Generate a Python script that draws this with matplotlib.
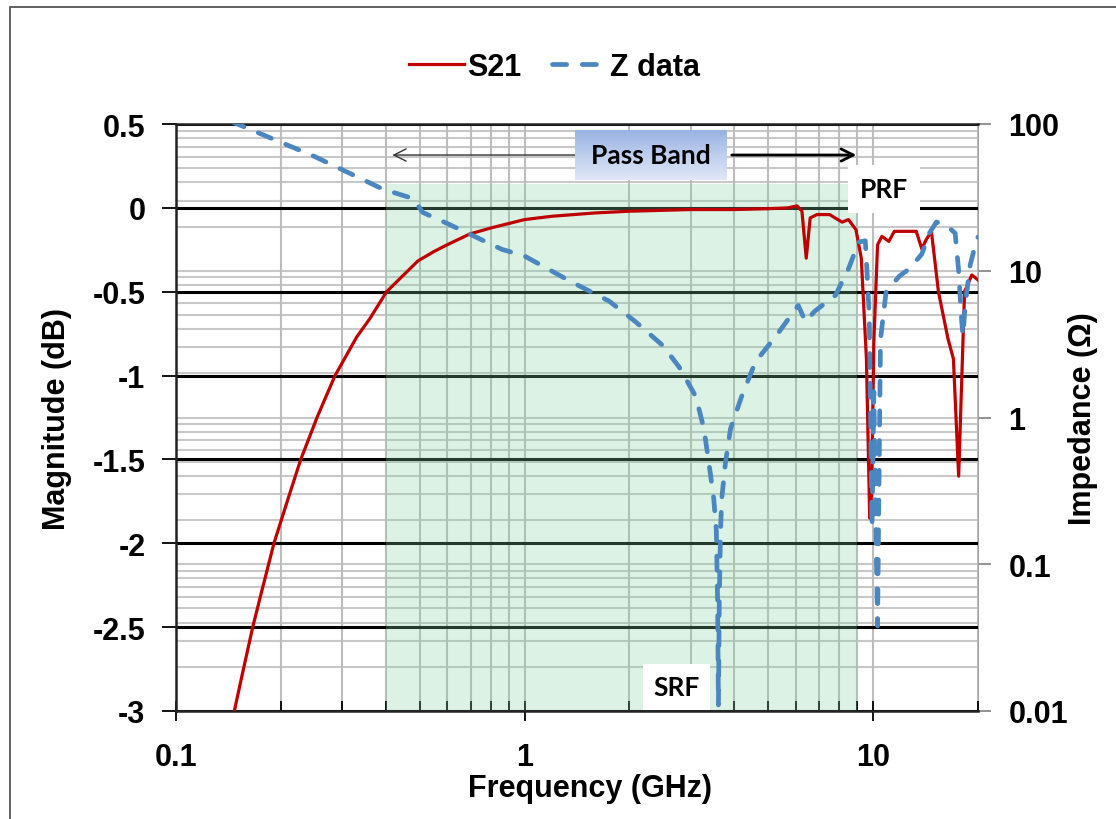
import numpy as np
import matplotlib
matplotlib.use('Agg')
import matplotlib.pyplot as plt
from matplotlib.ticker import FixedLocator, FixedFormatter, LogLocator, NullFormatter, NullLocator
from matplotlib.patches import Rectangle

# S21 (dB) vs frequency (GHz)
freq_s21 = [0.14, 0.147, 0.155, 0.166, 0.175, 0.191, 0.21, 0.228, 0.255, 0.286, 0.33, 0.36,
            0.402, 0.45, 0.494, 0.55, 0.6, 0.696, 0.8, 1.0, 1.2, 1.6, 2.0, 3.0, 4.0, 5.0,
            5.7, 6.05, 6.25, 6.43, 6.6, 6.9, 7.5, 8.15, 8.5, 8.93, 9.25, 9.57, 9.78, 9.9,
            10.05, 10.3, 10.6, 11.1, 11.5, 12.5, 13.3, 13.8, 14.2, 14.7, 15.4, 16.4, 17.0,
            17.6, 18.3, 19.2, 20.0]
s21_db = [-3.3, -3.0, -2.78, -2.5, -2.31, -2.0, -1.73, -1.5, -1.24, -1.0, -0.77, -0.66,
          -0.5, -0.40, -0.317, -0.26, -0.22, -0.156, -0.12, -0.07, -0.05, -0.03, -0.02,
          -0.01, -0.01, -0.005, 0.0, 0.012, -0.02, -0.30, -0.06, -0.04, -0.04, -0.085,
          -0.07, -0.13, -0.3, -0.9, -1.85, -1.7, -0.8, -0.22, -0.17, -0.2, -0.14, -0.14,
          -0.14, -0.245, -0.19, -0.14, -0.5, -0.78, -0.9, -1.6, -0.5, -0.4, -0.43]

# impedance (ohm) vs frequency (GHz)
freq_z = [0.1, 0.15, 0.25, 0.392, 0.48, 0.51, 0.6, 0.86, 1.0, 1.35, 1.75, 2.08, 2.49, 2.78,
          3.1, 3.27, 3.38, 3.49, 3.55, 3.58, 3.6, 3.62, 3.65, 3.68, 3.77, 3.9, 4.2, 4.6,
          5.27, 6.1, 6.4, 6.8, 7.8, 8.5, 9.1, 9.5, 9.75, 9.93, 10.05, 10.15, 10.3, 10.5,
          10.9, 11.9, 12.7, 13.8, 14.5, 15.2, 16.4, 17.2, 17.6, 17.9, 18.1, 18.4, 19.0,
          19.5, 20.0]
z_ohm = [150, 100, 60, 36, 31, 25, 21, 14, 12.6, 8.5, 6.2, 4.5, 3.1, 2.2,
         1.39, 0.84, 0.49, 0.28, 0.17, 0.056, 0.011, 0.056, 0.17, 0.28, 0.49, 0.84, 1.4, 2.4,
         3.6, 5.8, 4.5, 5.3, 6.8, 10.3, 15.7, 16.0, 5.0, 0.18, 1.5, 0.3, 0.038, 3.4,
         7.2, 9.2, 10.3, 13.0, 18.0, 21.5, 20.0, 18.0, 10.0, 5.0, 3.6, 6.0, 11.0,
         14.0, 17.0]

band_lo, band_hi, band_top = 0.4, 9.0, 0.14

x_ticks = [0.1, 1, 10]
x_tick_labels = ['0.1', '1', '10']
db_ticks = [-3, -2.5, -2, -1.5, -1, -0.5, 0, 0.5]
db_tick_labels = ['-3', '-2.5', '-2', '-1.5', '-1', '-0.5', '0', '0.5']
z_ticks = [0.01, 0.1, 1, 10, 100]
z_tick_labels = ['0.01', '0.1', '1', '10', '100']

FONT = 'Liberation Sans'
CAL = 'Lato'
FS = 22

fig = plt.figure(figsize=(11.16, 8.2), dpi=100, facecolor='white')
ax = fig.add_axes([176 / 1116, 1 - 712 / 820, 802 / 1116, 587 / 820])
ax2 = ax.twinx()
ax.set_zorder(ax2.get_zorder() + 1)
ax.patch.set_visible(False)

# scales
ax.set_xscale('log')
ax2.set_yscale('log')

# grids
ax2.yaxis.set_minor_locator(LogLocator(base=10, subs=np.arange(2, 10)))
ax2.yaxis.set_minor_formatter(NullFormatter())
ax2.yaxis.grid(True, which='both', color='#c8c8c8', lw=1.5, zorder=0)
ax.xaxis.grid(True, which='both', color='#bdbdbd', lw=1.5, zorder=0)
ax.yaxis.grid(True, which='major', color='black', lw=2.2, zorder=0.5)
ax.set_axisbelow(True)

# pass band region
ax.fill_between([band_lo, band_hi], -3, band_top, color='#7fd3a0', alpha=0.28,
                lw=0, zorder=1)

ax.plot(freq_s21, s21_db, color='#c00000', lw=2.3, label='S21', zorder=3,
        solid_joinstyle='round')
ax.plot(freq_z, z_ohm, color='#4a86c0', lw=3.4, ls=(0, (3.0, 3.3)),
        dash_capstyle='round', label='Z data', zorder=4, transform=ax2.transData)

# limits / ticks
ax.set_xlim(0.1, 20)
ax.set_ylim(-3, 0.5)
ax2.set_ylim(0.01, 100)

ax.xaxis.set_major_locator(FixedLocator(x_ticks))
ax.xaxis.set_major_formatter(FixedFormatter(x_tick_labels))
ax.xaxis.set_minor_locator(LogLocator(base=10, subs=np.arange(2, 10)))
ax.xaxis.set_minor_formatter(NullFormatter())
ax.yaxis.set_major_locator(FixedLocator(db_ticks))
ax.yaxis.set_major_formatter(FixedFormatter(db_tick_labels))
ax.yaxis.set_minor_locator(NullLocator())
ax2.yaxis.set_major_locator(FixedLocator(z_ticks))
ax2.yaxis.set_major_formatter(FixedFormatter(z_tick_labels))

ax.tick_params(axis='x', which='major', direction='inout', length=14, width=1.3,
               pad=15, labelsize=FS)
ax.tick_params(axis='x', which='minor', direction='in', length=7, width=1.3)
ax.tick_params(axis='y', which='major', direction='out', length=10, width=1.3,
               pad=12, labelsize=FS)
ax2.tick_params(axis='y', which='major', direction='out', length=9, width=1.3,
                color='#888888', pad=13, labelsize=FS)
ax2.tick_params(axis='y', which='minor', length=0)

for t in ax.get_xticklabels() + ax.get_yticklabels() + ax2.get_yticklabels():
    t.set_fontfamily(FONT)
    t.set_fontweight('bold')

for s in ['left', 'bottom', 'top']:
    ax.spines[s].set_color('#222222')
    ax.spines[s].set_linewidth(1.8)
ax.spines['right'].set_visible(False)
for s in ['left', 'bottom', 'top']:
    ax2.spines[s].set_visible(False)
ax2.spines['right'].set_color('#999999')
ax2.spines['right'].set_linewidth(1.3)

lab = dict(fontsize=FS, fontweight='bold', fontfamily=FONT)
ax.set_xlabel('Frequency (GHz)', **lab)
ax.set_ylabel('Magnitude (dB)', **lab)
ax2.set_ylabel('Impedance (Ω)', **lab)
ax.xaxis.set_label_coords(0.516, -0.105)
ax.yaxis.set_label_coords(-0.13, 0.5)
ax2.yaxis.set_label_coords(1.112, 0.5)

# annotations
ax.annotate('', xy=(0.41, 0.315), xytext=(3.3, 0.315),
            arrowprops=dict(arrowstyle='->', color='#333333', lw=1.0,
                            mutation_scale=22), zorder=5)
ax.annotate('', xy=(9.12, 0.315), xytext=(3.86, 0.315),
            arrowprops=dict(arrowstyle='->', color='black', lw=2.0,
                            mutation_scale=22), zorder=5)

# gradient box for "Pass Band"
bx = fig.add_axes([575 / 1116, 1 - 181 / 820, 152 / 1116, 50 / 820], zorder=10)
top_c = np.array([0.60, 0.70, 0.89])
bot_c = np.array([0.88, 0.91, 0.97])
grad = np.linspace(0, 1, 64)[:, None, None] * (bot_c - top_c) + top_c
bx.imshow(np.repeat(grad, 2, axis=1), aspect='auto', extent=[0, 1, 0, 1])
bx.set_axis_off()
bx.text(0.5, 0.5, 'Pass Band', ha='center', va='center', fontsize=19,
        fontweight='bold', fontfamily=CAL, transform=bx.transAxes)

ax.text(10.75, 0.112, 'PRF', ha='center', va='center', fontsize=19, fontweight='bold',
        fontfamily=CAL, zorder=6,
        bbox=dict(boxstyle='square,pad=0.45', fc='white', ec='none'))
ax.text(2.73, -2.857, 'SRF', ha='center', va='center', fontsize=19, fontweight='bold',
        fontfamily=CAL, zorder=6,
        bbox=dict(boxstyle='square,pad=0.4', fc='white', ec='none'))

# legend
h1, l1 = ax.get_legend_handles_labels()
leg = fig.legend(h1, l1, loc='center', bbox_to_anchor=(0.497, 0.917), ncol=2,
                 frameon=False, handlelength=1.8, handletextpad=0.1,
                 columnspacing=1.0, prop=dict(family=FONT, weight='bold', size=FS))

# chart border
fig.add_artist(Rectangle((10 / 1116, -0.1), 1.1, 1.1 - 8 / 820, transform=fig.transFigure,
                         fill=False, ec='#555555', lw=1.3))

fig.savefig('out.png', dpi=100, facecolor='white')
